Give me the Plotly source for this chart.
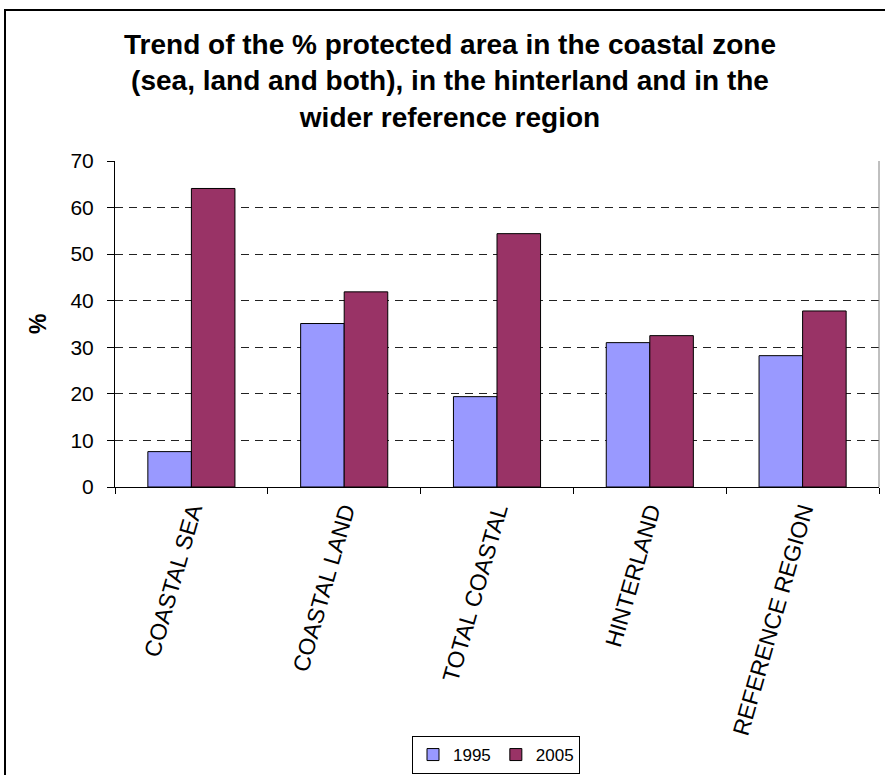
import plotly.graph_objects as go

categories = ["COASTAL SEA", "COASTAL LAND", "TOTAL COASTAL", "HINTERLAND", "REFERENCE REGION"]
values_1995 = [7.6, 35.1, 19.4, 31.0, 28.2]
values_2005 = [64.1, 41.9, 54.4, 32.5, 37.8]
series_names = ["1995", "2005"]
y_ticks = [0, 10, 20, 30, 40, 50, 60, 70]

title_text = ("Trend of the % protected area in the coastal zone<br>"
              "(sea, land and both), in the hinterland and in the<br>"
              "wider reference region")

FONT = "Liberation Sans, Arial, sans-serif"

fig = go.Figure()
fig.add_trace(go.Bar(x=categories, y=values_1995, name=series_names[0],
                     marker=dict(color="#9999FF", line=dict(color="black", width=1))))
fig.add_trace(go.Bar(x=categories, y=values_2005, name=series_names[1],
                     marker=dict(color="#993366", line=dict(color="black", width=1))))

W, H = 885, 775
L, R, T, B = 115, 6, 161, 288
pw = W - L - R
ph = H - T - B

def px_x(p):
    return (p - L) / pw

def px_y(p):
    return (H - B - p) / ph

fig.update_layout(
    width=W, height=H,
    margin=dict(l=L, r=R, t=T, b=B, autoexpand=False),
    paper_bgcolor="white", plot_bgcolor="white",
    font=dict(family=FONT, color="black"),
    barmode="group", bargap=0.43, bargroupgap=0,
    title=dict(text=title_text, x=450 / W, xanchor="center", xref="container",
               y=1 - 54 / H, yanchor="top", yref="container",
               font=dict(family=FONT, size=28, color="black", weight="bold")),
    showlegend=True,
    legend=dict(orientation="h", x=px_x(496), xanchor="center", y=px_y(736), yanchor="top",
                bordercolor="black", borderwidth=1, font=dict(size=17, family=FONT),
                itemwidth=30, tracegroupgap=0),
    xaxis=dict(type="category", showline=True, linecolor="black", linewidth=1,
               ticks="outside", ticklen=6, tickcolor="black", tickson="boundaries",
               tickangle=-74, tickfont=dict(size=23, family=FONT), showgrid=False,
               automargin=False),
    yaxis=dict(range=[0, 70], tickvals=y_ticks, showline=True, linecolor="black", linewidth=1,
               ticks="outside", ticklen=7, tickcolor="black", zeroline=False,
               showgrid=True, gridcolor="#222222", gridwidth=1, griddash="8px,6px",
               tickfont=dict(size=21, family=FONT), ticklabelstandoff=9, automargin=False),
    annotations=[dict(text="<b>%</b>", x=px_x(38), xanchor="center", y=0.5, yanchor="middle",
                      xref="paper", yref="paper",
                      textangle=-90, showarrow=False, font=dict(size=23, family=FONT))],
    shapes=[
        dict(type="line", xref="paper", yref="paper", x0=1, x1=1, y0=0, y1=1,
             line=dict(color="#808080", width=1)),
        dict(type="rect", xref="paper", yref="paper", x0=px_x(5), x1=px_x(892),
             y0=px_y(790), y1=px_y(10), line=dict(color="black", width=2), layer="below"),
    ],
)

fig.write_html("out.html")
